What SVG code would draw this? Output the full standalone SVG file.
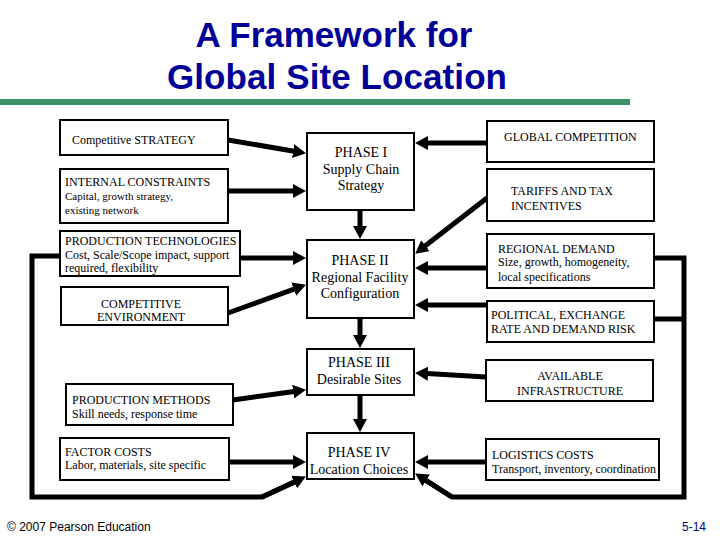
<svg xmlns="http://www.w3.org/2000/svg" width="720" height="540" viewBox="0 0 720 540">
<style>
.box{fill:#fff;stroke:#000;stroke-width:2}
.t{font-family:"Liberation Serif","Times New Roman",serif;font-size:12px;fill:#000}
.p{font-family:"Liberation Serif","Times New Roman",serif;font-size:14px;fill:#000;text-anchor:middle}
.c{text-anchor:middle}
.title{font-family:"Liberation Sans",Arial,sans-serif;font-size:35px;font-weight:bold;fill:#000099;text-anchor:middle}
.foot{font-family:"Liberation Sans",Arial,sans-serif;font-size:12px}
.con{fill:none;stroke:#000;stroke-width:5}
.arr{marker-end:url(#ah)}
</style>
<defs>
<marker id="ah" markerUnits="userSpaceOnUse" markerWidth="13" markerHeight="14" viewBox="0 0 13 14" refX="1" refY="7" orient="auto">
<path d="M0,0 L13,7 L0,14 z" fill="#000"/>
</marker>
</defs>
<rect width="720" height="540" fill="#fff"/>
<g id="title">
<text class="title" x="334" y="47">A Framework for</text>
<text class="title" x="337" y="89" textLength="340" lengthAdjust="spacing">Global Site Location</text>
<rect x="0" y="99" width="630" height="6" fill="#3d9168"/>
</g>
<g id="connectors">
<path class="con" d="M60,256 H32 V497 H262 L296,481.5" stroke-linejoin="miter"/>
<path class="con arr" d="M262,497 L295,481.6"/>
<path class="con" d="M654,258 H684 V497 H452 L425,480" stroke-linejoin="miter"/>
<path class="con" d="M654,319 H684"/>
<path class="con arr" d="M452,497 L425.3,479.9"/>
<path class="con arr" d="M228,140 L294.2,151.2"/>
<path class="con arr" d="M228,191 L294,191"/>
<path class="con arr" d="M487,143 L427,143"/>
<path class="con arr" d="M360,210 L360,227"/>
<path class="con arr" d="M240,258 L294,258"/>
<path class="con arr" d="M228,313 L294.7,288.8"/>
<path class="con arr" d="M487,198 L424.7,246.3"/>
<path class="con arr" d="M487,268 L427,268"/>
<path class="con arr" d="M487,305 L427,305"/>
<path class="con arr" d="M360,318 L360,336"/>
<path class="con arr" d="M233,400 L294.1,391.5"/>
<path class="con arr" d="M486,377 L427,373.6"/>
<path class="con arr" d="M360,395 L360,420"/>
<path class="con arr" d="M229,462 L294,462"/>
<path class="con arr" d="M486,462 L427,462"/>
</g>
<g id="competitive-strategy">
<rect class="box" x="60" y="120" width="168" height="35"/>
<text class="t" x="72" y="144">Competitive STRATEGY</text>
</g>
<g id="internal-constraints">
<rect class="box" x="60" y="169" width="168" height="54"/>
<text class="t" x="65" y="186">INTERNAL CONSTRAINTS</text>
<text class="t" x="65" y="200" style="font-size:11px">Capital, growth strategy,</text>
<text class="t" x="65" y="214" style="font-size:11px">existing network</text>
</g>
<g id="production-technologies">
<rect class="box" x="60" y="231" width="180" height="45"/>
<text class="t" x="65" y="245">PRODUCTION TECHNOLOGIES</text>
<text class="t" x="65" y="259">Cost, Scale/Scope impact, support</text>
<text class="t" x="65" y="272">required, flexibility</text>
</g>
<g id="competitive-environment">
<rect class="box" x="61" y="287" width="167" height="38"/>
<text class="t c" x="141" y="308">COMPETITIVE</text>
<text class="t c" x="141" y="321">ENVIRONMENT</text>
</g>
<g id="production-methods">
<rect class="box" x="66" y="384" width="167" height="41"/>
<text class="t" x="72" y="404">PRODUCTION METHODS</text>
<text class="t" x="72" y="418">Skill needs, response time</text>
</g>
<g id="factor-costs">
<rect class="box" x="60" y="438" width="169" height="42"/>
<text class="t" x="65" y="456">FACTOR COSTS</text>
<text class="t" x="65" y="469">Labor, materials, site specific</text>
</g>
<g id="phase1">
<rect class="box" x="307" y="133" width="107" height="77"/>
<text class="p" x="361" y="157">PHASE I</text>
<text class="p" x="361" y="174">Supply Chain</text>
<text class="p" x="361" y="190">Strategy</text>
</g>
<g id="phase2">
<rect class="box" x="307" y="240" width="107" height="78"/>
<text class="p" x="360" y="265">PHASE II</text>
<text class="p" x="360" y="282">Regional Facility</text>
<text class="p" x="360" y="298">Configuration</text>
</g>
<g id="phase3">
<rect class="box" x="307" y="349" width="107" height="46"/>
<text class="p" x="359" y="367">PHASE III</text>
<text class="p" x="359" y="384">Desirable Sites</text>
</g>
<g id="phase4">
<rect class="box" x="307" y="433" width="107" height="46"/>
<text class="p" x="359" y="457">PHASE IV</text>
<text class="p" x="359" y="474">Location Choices</text>
</g>
<g id="global-competition">
<rect class="box" x="487" y="121" width="167" height="41"/>
<text class="t" x="504" y="141">GLOBAL COMPETITION</text>
</g>
<g id="tariffs">
<rect class="box" x="487" y="169" width="167" height="52"/>
<text class="t" x="511" y="195">TARIFFS AND TAX</text>
<text class="t" x="511" y="210">INCENTIVES</text>
</g>
<g id="regional-demand">
<rect class="box" x="487" y="234" width="167" height="54"/>
<text class="t" x="498" y="253">REGIONAL DEMAND</text>
<text class="t" x="498" y="266">Size, growth, homogeneity,</text>
<text class="t" x="498" y="281">local specifications</text>
</g>
<g id="political">
<rect class="box" x="487" y="301" width="167" height="41"/>
<text class="t" x="491" y="319">POLITICAL, EXCHANGE</text>
<text class="t" x="491" y="333">RATE AND DEMAND RISK</text>
</g>
<g id="infrastructure">
<rect class="box" x="486" y="360" width="167" height="41"/>
<text class="t c" x="570" y="380">AVAILABLE</text>
<text class="t c" x="570" y="395">INFRASTRUCTURE</text>
</g>
<g id="logistics-costs">
<rect class="box" x="486" y="439" width="173" height="41"/>
<text class="t" x="492" y="459">LOGISTICS COSTS</text>
<text class="t" x="492" y="473">Transport, inventory, coordination</text>
</g>
<g id="footer">
<text class="foot" x="7" y="531" fill="#000">© 2007 Pearson Education</text>
<text class="foot" x="682" y="531" fill="#000080">5-14</text>
</g>
</svg>
